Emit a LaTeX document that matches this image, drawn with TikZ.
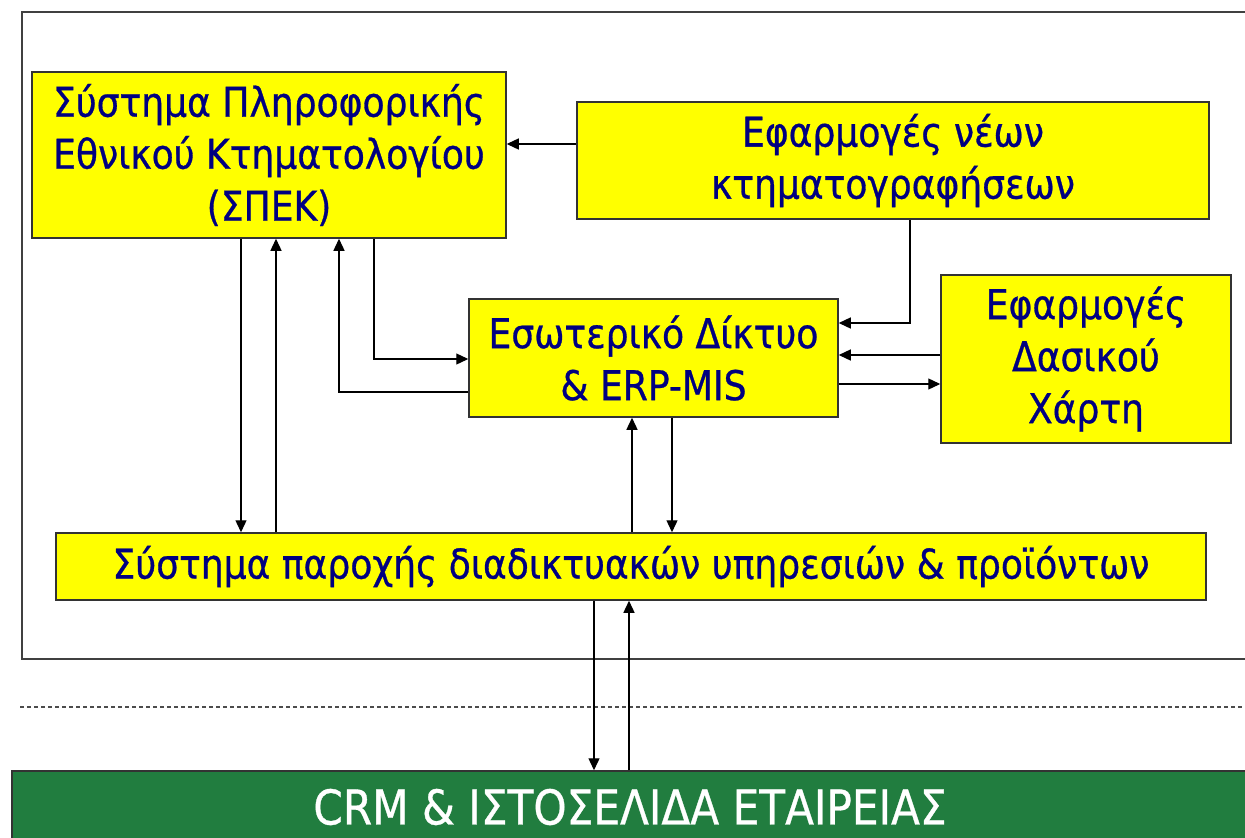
\documentclass[tikz,border=0pt]{standalone}
\usepackage{fontspec}
\setmainfont{DejaVu Sans}[FakeStretch=0.88,FakeBold=0.7]
\usetikzlibrary{arrows.meta}
\definecolor{boxyellow}{RGB}{255,255,0}
\definecolor{textnavy}{RGB}{0,0,128}
\definecolor{crmgreen}{RGB}{33,125,63}
\tikzset{
  unit/.style={%
    draw=black!80, line width=1.5pt, fill=boxyellow,
    text=textnavy, align=center, inner sep=0pt,
    font=\fontsize{41}{52}\selectfont,
  },
  link/.style={line width=1.3pt, -{Triangle[length=12pt,width=11pt]}},
  frame/.style={draw=black!75, line width=2pt},
}

\begin{document}
\begin{tikzpicture}[x=1pt,y=-1pt]
\useasboundingbox (0,0) rectangle (1245,838);
\draw[frame] (22,12) rectangle (1262,659);
\node[unit, minimum width=474pt, minimum height=166pt] (spek) at (269,155)
  {Σύστημα Πληροφορικής\\Εθνικού Κτηματολογίου\\(ΣΠΕΚ)};
\node[unit, minimum width=632pt, minimum height=117pt] (nea) at (893,160.5)
  {Εφαρμογές νέων\\κτηματογραφήσεων};
\node[unit, minimum width=369pt, minimum height=118pt] (esot) at (653.5,358)
  {Εσωτερικό Δίκτυο\\\& ERP-MIS};
\node[unit, minimum width=290pt, minimum height=168pt] (dasos) at (1086,359)
  {Εφαρμογές\\Δασικού\\Χάρτη};
\node[unit, minimum width=1150pt, minimum height=67pt] (parox) at (631,566.5)
  {Σύστημα παροχής διαδικτυακών υπηρεσιών \& προϊόντων};
\node[draw=black!80, line width=1.5pt, fill=crmgreen, text=white, inner sep=0pt,
  minimum width=1236pt, minimum height=72pt,
  font=\fontsize{48}{50}\selectfont] (crm) at (630,807)
  {CRM \& ΙΣΤΟΣΕΛΙΔΑ ΕΤΑΙΡΕΙΑΣ};
\draw[black!70, line width=1.3pt, dash pattern=on 4pt off 3pt] (20,707) -- (1245,707);
% links
\draw[link] (nea.west |- 0,144) -- (spek.east |- 0,144);
\draw[link] (nea.south -| 910,0) |- (esot.east |- 0,323);
\draw[link] (dasos.west |- 0,355) -- (esot.east |- 0,355);
\draw[link] (esot.east |- 0,384) -- (dasos.west |- 0,384);
\draw[link] (spek.south -| 374,0) |- (esot.west |- 0,359);
\draw[link] (esot.west |- 0,392) -| (spek.south -| 339,0);
\draw[link] (spek.south -| 241,0) -- (parox.north -| 241,0);
\draw[link] (parox.north -| 276,0) -- (spek.south -| 276,0);
\draw[link] (parox.north -| 632,0) -- (esot.south -| 632,0);
\draw[link] (esot.south -| 672,0) -- (parox.north -| 672,0);
\draw[link] (parox.south -| 594,0) -- (crm.north -| 594,0);
\draw[link] (crm.north -| 629,0) -- (parox.south -| 629,0);
\end{tikzpicture}
\end{document}
